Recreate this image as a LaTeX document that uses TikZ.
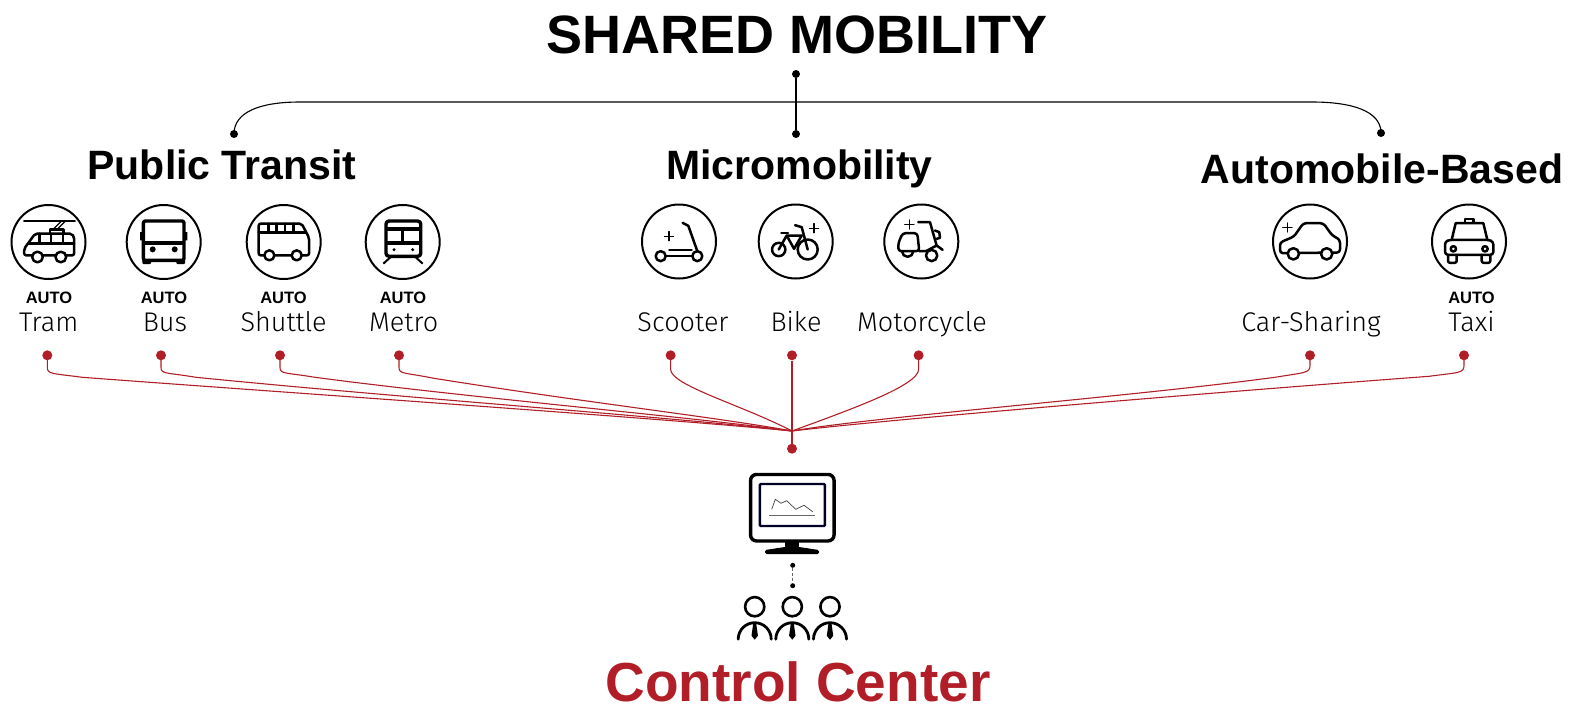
\documentclass[tikz,border=0pt]{standalone}
\usepackage{fontspec}
\setmainfont{Liberation Sans}
\newfontfamily\lightface[UprightFont=* Light]{Fira Sans}
\usetikzlibrary{positioning}
\definecolor{ctrlred}{HTML}{B11E27}
\tikzset{
    iconnode/.style = {circle, line width=2pt, draw=black, minimum size=74pt, inner sep=0pt},
    titlenode/.style = {anchor=base,font=\bfseries\fontsize{54}{54}\selectfont,text=black,inner sep=0pt},
    groupnode/.style = {anchor=base,font=\bfseries\fontsize{41}{41}\selectfont,text=black,inner sep=0pt},
    autonode/.style = {anchor=base,font=\bfseries\fontsize{16.5}{16.5}\selectfont,text=black,inner sep=0pt},
    namenode/.style = {anchor=base,font=\lightface\fontsize{27}{27}\selectfont,text=black,inner sep=0pt},
    ctrlnode/.style = {anchor=base,font=\bfseries\fontsize{55}{55}\selectfont,text=ctrlred,inner sep=0pt},
    reddot/.style = {circle, fill=ctrlred, minimum size=10pt, inner sep=0pt},
    blackdot/.style = {circle, fill=black, minimum size=8pt, inner sep=0pt},
    feedline/.style = {-,line width=1.1pt,ctrlred},
    treeline/.style = {-,line width=1.1pt,black},
    iconline/.style = {line width=2.5pt,line join=round,line cap=round},
    heavyline/.style = {line width=3.4pt,line join=round},
    thinline/.style = {line width=1.1pt},
    zoomunit/.style = {x=.3333pt,y=-.3333pt},
    pics/tramicon/.style = {code={
      \begin{scope}[zoomunit,shift={(-145,-125)},iconline]
        \draw (72,62) -- (224,62);
        \draw[line width=1.4pt] (158,88) -- (182,64) (170,88) -- (194,64);
        \draw (150,98) -- (150,88) -- (190,88) -- (190,100);
        \draw[rounded corners=2pt] (72,165) -- (72,145) -- (105,100) -- (215,100) -- (222,110) -- (222,165) -- cycle;
        \draw (84,130) -- (222,130) (118,100) -- (118,130) (152,100) -- (152,130) (188,100) -- (188,130);
        \draw[fill=white] (112,170) circle (16) (182,170) circle (16);
      \end{scope}}},
    pics/busicon/.style = {code={
      \begin{scope}[zoomunit,shift={(-491,-125)},heavyline]
        \draw[rounded corners=2pt] (430,62) rectangle (552,180);
        \draw (430,128) -- (552,128);
        \fill[rounded corners=1pt] (427,176) rectangle (453,191) (529,176) rectangle (555,191);
        \fill (420,95) rectangle (430,120) (552,95) rectangle (562,120);
        \fill (458,147) circle (9) (524,147) circle (9);
      \end{scope}}},
    pics/shuttleicon/.style = {code={
      \begin{scope}[zoomunit,shift={(-851,-125)},iconline]
        \draw[rounded corners=2pt] (776,70) -- (905,70) -- (927,112) -- (927,165) -- (776,165) -- cycle;
        \draw (776,97) -- (916,97) (805,70) -- (805,97) (830,70) -- (830,97) (855,70) -- (855,97) (880,70) -- (880,97);
        \draw[fill=white] (808,165) circle (15) (890,165) circle (15);
      \end{scope}}},
    pics/metroicon/.style = {code={
      \begin{scope}[zoomunit,shift={(-1208,-125)},heavyline]
        \draw[rounded corners=3pt] (1158,62) rectangle (1262,168);
        \draw (1158,86) -- (1262,86) (1158,128) -- (1262,128) (1208,86) -- (1208,128);
        \fill (1182,148) circle (5) (1238,148) circle (5);
        \draw[line width=2pt] (1150,190) -- (1172,170) (1268,190) -- (1246,170);
      \end{scope}}},
    pics/scootericon/.style = {code={
      \begin{scope}[zoomunit,shift={(-177,-153)},iconline]
        \draw (188,97) -- (205,106) -- (232,182);
        \draw (148,178) -- (215,178) (137,197) -- (217,197);
        \draw (122,197) circle (15) (232,197) circle (15);
        \draw[thinline] (133,137) -- (161,137) (147,123) -- (147,151);
      \end{scope}}},
    pics/bikeicon/.style = {code={
      \begin{scope}[zoomunit,shift={(-527,-153)},iconline]
        \draw (476,177) circle (20) (563,177) circle (30);
        \draw (476,177) -- (500,135) -- (545,135) -- (522,175) -- (500,135);
        \draw (484,127) -- (504,127);
        \draw (525,104) -- (545,110) -- (563,177);
        \draw[thinline] (568,113) -- (596,113) (582,99) -- (582,127);
      \end{scope}}},
    pics/motoicon/.style = {code={
      \begin{scope}[zoomunit,shift={(-904,-153)},iconline]
        \draw[rounded corners=3pt] (848,128) -- (892,128) -- (898,182) -- (835,182) -- (835,158) -- cycle;
        \draw (895,95) -- (930,95) -- (950,165) (898,182) -- (918,182) -- (950,165) -- (968,178);
        \draw (945,120) -- (958,125) -- (960,142) -- (950,145);
        \draw (846,182) arc (180:0:17);
        \draw[fill=white] (935,195) circle (17);
        \draw[thinline] (854,102) -- (882,102) (868,88) -- (868,116);
      \end{scope}}},
    pics/caricon/.style = {code={
      \begin{scope}[zoomunit,shift={(-270,-155)},iconline]
        \draw[rounded corners=3pt] (180,190) -- (180,158) -- (222,140) -- (250,100) -- (310,100) -- (336,136) -- (360,150) -- (360,188) -- cycle;
        \draw[fill=white] (220,192) circle (17) (320,192) circle (17);
        \draw[thinline] (188,113) -- (216,113) (202,99) -- (202,127);
      \end{scope}}},
    pics/taxiicon/.style = {code={
      \begin{scope}[zoomunit,shift={(-747,-155)},iconline]
        \draw (735,98) -- (735,88) -- (760,88) -- (760,98);
        \draw (695,150) -- (707,100) -- (790,100) -- (802,150);
        \draw[rounded corners=3pt] (675,155) -- (690,150) -- (805,150) -- (820,155) -- (820,195) -- (675,195) -- cycle;
        \draw (700,177) circle (8) (795,177) circle (8);
        \draw[rounded corners=2pt] (684,195) -- (684,219) -- (710,219) -- (710,195);
        \draw[rounded corners=2pt] (785,195) -- (785,219) -- (811,219) -- (811,195);
      \end{scope}}},
    pics/personicon/.style = {code={
      \draw[line width=2.6pt] (0,0) circle (9.6);
      \draw[line width=2.8pt,line cap=round] (-16.5,32.5) arc (180:360:16.5);
      \fill (-1.6,17.5) -- (1.6,17.5) -- (3.2,29) -- (0,33) -- (-3.2,29) -- cycle;
    }}
}
\begin{document}
\begin{tikzpicture}[x=1pt,y=-1pt]
  \useasboundingbox (0,0) rectangle (1574,707);
  \node (title) at (797,53.5) [titlenode] {SHARED MOBILITY};
  \node (transit) at (222,179) [groupnode] {Public Transit};
  \node (micro) at (799.5,179) [groupnode] {Micromobility};
  \node (auto) at (1382,183) [groupnode] {Automobile-Based};

  \node (topdot) at (796,74) [blackdot] {};
  \node (transitdot) at (234,134) [blackdot] {};
  \node (microdot) at (796,134) [blackdot] {};
  \node (autodot) at (1381,133) [blackdot] {};
  \coordinate (bend) at (796,102);
  \draw[treeline] (topdot) -- (microdot);
  \draw[treeline] (transitdot.center) .. controls +(0,-22) and +(-40,0) .. ++(66,-32) -- (bend) -- ++(516,0) .. controls +(40,0) and +(0,-22) .. (autodot.center);

  \node (tram) at (48.5,242) [iconnode] {};
  \node (bus) at (163.7,242) [iconnode] {};
  \node (shuttle) at (283.7,242) [iconnode] {};
  \node (metro) at (402.7,242) [iconnode] {};
  \node (scooter) at (679,241.5) [iconnode] {};
  \node (bike) at (795.7,241.5) [iconnode] {};
  \node (moto) at (921.3,241.5) [iconnode] {};
  \node (car) at (1310,241.5) [iconnode] {};
  \node (taxi) at (1469,241.5) [iconnode] {};
  \pic at (tram) {tramicon};
  \pic at (bus) {busicon};
  \pic at (shuttle) {shuttleicon};
  \pic at (metro) {metroicon};
  \pic at (scooter) {scootericon};
  \pic at (bike) {bikeicon};
  \pic at (moto) {motoicon};
  \pic at (car) {caricon};
  \pic at (taxi) {taxiicon};

  \node (tramauto) at (49,303.5) [autonode] {AUTO};
  \node (busauto) at (164,303.5) [autonode] {AUTO};
  \node (shuttleauto) at (283.5,303.5) [autonode] {AUTO};
  \node (metroauto) at (403,303.5) [autonode] {AUTO};
  \node (taxiauto) at (1471.5,303.5) [autonode] {AUTO};
  \node (tramname) at (48.7,331.5) [namenode] {Tram};
  \node (busname) at (165,331.5) [namenode] {Bus};
  \node (shuttlename) at (283.6,331.5) [namenode] {Shuttle};
  \node (metroname) at (403.6,331.5) [namenode] {Metro};
  \node (scootername) at (683,331.5) [namenode] {Scooter};
  \node (bikename) at (796,331.5) [namenode] {Bike};
  \node (motoname) at (922,331.5) [namenode] {Motorcycle};
  \node (carname) at (1311,331.5) [namenode] {Car-Sharing};
  \node (taxiname) at (1471.5,331.5) [namenode] {Taxi};

  \node (tramdot) at (47.3,355.3) [reddot] {};
  \node (busdot) at (161,355.3) [reddot] {};
  \node (shuttledot) at (280,355.3) [reddot] {};
  \node (metrodot) at (399,355.3) [reddot] {};
  \node (scooterdot) at (670.6,355.3) [reddot] {};
  \node (bikedot) at (792,355.3) [reddot] {};
  \node (motodot) at (918.6,355.3) [reddot] {};
  \node (cardot) at (1310,355.3) [reddot] {};
  \node (taxidot) at (1464,355.3) [reddot] {};
  \node (ctrldot) at (792,448.7) [reddot] {};
  \coordinate (hub) at (792,431);
  % feeds into the control center
  \draw[feedline] (tramdot.center) -- ++(0,12) .. controls +(0,7) and +(-30,-4) .. ++(35,10) .. controls +(200,15) and +(-120,-12) .. (hub);
  \draw[feedline] (busdot.center) -- ++(0,12) .. controls +(0,7) and +(-30,-5) .. ++(35,10) .. controls +(200,20) and +(-110,-13) .. (hub);
  \draw[feedline] (shuttledot.center) -- ++(0,12) .. controls +(0,7) and +(-30,-5) .. ++(35,10) .. controls +(150,20) and +(-90,-13) .. (hub);
  \draw[feedline] (metrodot.center) -- ++(0,12) .. controls +(0,7) and +(-30,-6) .. ++(35,11) .. controls +(150,24) and +(-70,-13) .. (hub);
  \draw[feedline] (scooterdot.center) -- ++(0,14) .. controls +(0,16) and +(-50,-26) .. (hub);
  \draw[feedline] (bikedot) -- (ctrldot);
  \draw[feedline] (motodot.center) -- ++(0,14) .. controls +(0,16) and +(60,-22) .. (hub);
  \draw[feedline] (cardot.center) -- ++(0,10) .. controls +(0,8) and +(30,-5) .. ++(-35,12) .. controls +(-150,20) and +(80,-14) .. (hub);
  \draw[feedline] (taxidot.center) -- ++(0,10) .. controls +(0,8) and +(30,-4) .. ++(-35,11) .. controls +(-200,15) and +(110,-13) .. (hub);

  % monitor
  \node (monitor) at (792.3,507.7) [draw,line width=3.4pt,rounded corners=6pt,minimum width=83.5pt,minimum height=66.5pt,inner sep=0pt] {};
  \node (screen) at (792.3,505) [draw=black!85!blue,line width=2.4pt,rounded corners=1pt,minimum width=65pt,minimum height=42pt,inner sep=0pt] {};
  \fill (785,541) rectangle (799,549);
  \fill[rounded corners=1.5pt] (785,547) -- (799,547) -- (819,550) -- (819,554) -- (765,554) -- (765,550) -- cycle;
  \draw[line width=.7pt,black!75] (771.7,509.3) -- (775.3,499.3) -- (781,503.3) -- (786.7,500.7) -- (795.7,509.3) -- (804,505.3) -- (812.7,511.7);
  \draw[line width=.9pt,black!60] (769,515) -- (815,515);

  \node (deskdot) at (792.7,565.3) [circle,fill=black,minimum size=5pt,inner sep=0pt] {};
  \node (crewdot) at (792.7,585.7) [circle,fill=black,minimum size=5pt,inner sep=0pt] {};
  \draw[line width=.8pt,black!60,densely dashed] (deskdot) -- (crewdot);
  \pic at (754.7,606.7) {personicon};
  \pic at (792.3,606.7) {personicon};
  \pic at (830,606.7) {personicon};

  \node (ctrl) at (798,701.5) [ctrlnode] {Control Center};
\end{tikzpicture}
\end{document}
